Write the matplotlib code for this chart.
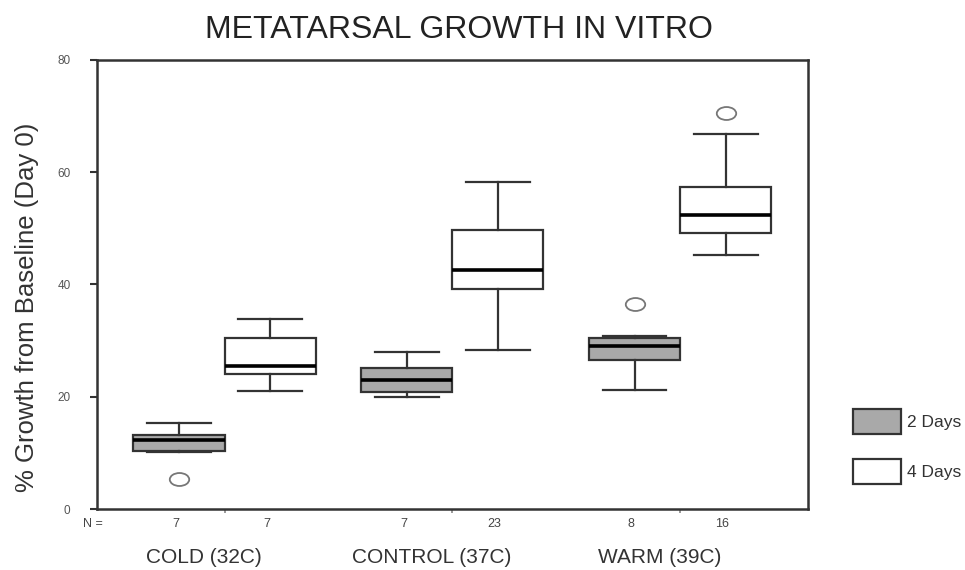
import matplotlib
matplotlib.use("Agg")
import matplotlib.pyplot as plt
from matplotlib.path import Path
from matplotlib.patches import Patch
from matplotlib.transforms import Affine2D

plt.rcParams['font.family'] = ['Liberation Sans', 'DejaVu Sans']

groups = ['COLD (32C)', 'CONTROL (37C)', 'WARM (39C)']
n_2days = [7, 7, 8]
n_4days = [7, 23, 16]

# whislo, q1, med, q3, whishi for each group
days2 = [[10.1, 10.3, 12.3, 13.1, 15.4],
         [19.9, 20.9, 23.0, 25.1, 28.0],
         [21.2, 26.5, 29.0, 30.4, 30.8]]
days4 = [[21.1, 24.0, 25.4, 30.4, 33.9],
         [28.4, 39.1, 42.6, 49.7, 58.2],
         [45.3, 49.1, 52.3, 57.3, 66.8]]
outl2 = [[5.3], [], [36.5]]
outl4 = [[], [], [70.5]]

def mkstats(rows, outs):
    res = []
    for r, o in zip(rows, outs):
        res.append(dict(whislo=r[0], q1=r[1], med=r[2], q3=r[3], whishi=r[4], fliers=o))
    return res

ellipse = Path.unit_circle().transformed(Affine2D().scale(1.5, 1.0))

fig = plt.figure(figsize=(9.65, 5.7), dpi=100)
ax = fig.add_axes([0.1005, 0.107, 0.7365, 0.788])

edge = '#333333'
pos = [1, 2, 3]
for stats, shift, fc in [(mkstats(days2, outl2), -0.2, '#a9a9a9'),
                         (mkstats(days4, outl4), 0.2, 'white')]:
    ax.bxp(stats, positions=[p + shift for p in pos], widths=0.4, capwidths=0.28,
           patch_artist=True, manage_ticks=False,
           boxprops=dict(facecolor=fc, edgecolor=edge, linewidth=1.6),
           whiskerprops=dict(color=edge, linewidth=1.6),
           capprops=dict(color=edge, linewidth=1.6),
           medianprops=dict(color='black', linewidth=2.6),
           flierprops=dict(marker=ellipse, markersize=14, markerfacecolor='white',
                           markeredgecolor='#777777', markeredgewidth=1.3))

ax.set_xlim(0.44, 3.56)
ax.set_ylim(0, 80)
ax.set_yticks([0, 20, 40, 60, 80])
ax.tick_params(axis='y', labelsize=8.5, labelcolor='#555555', length=5, width=1.5,
               color=edge, pad=14)
ax.set_xticks(pos)
ax.set_xticklabels([])
ax.tick_params(axis='x', length=3, width=1.2, color='#888888')
for s in ax.spines.values():
    s.set_color(edge)
    s.set_linewidth(1.8)

ax.set_ylabel('% Growth from Baseline (Day 0)', fontsize=18.5, color='#333333')
ax.yaxis.set_label_coords(-0.081, 0.45)
ax.set_title('METATARSAL GROWTH IN VITRO', fontsize=23, color='#222222', pad=16, x=0.509)

tr = ax.get_xaxis_transform()
ax.text(0.42, -0.034, 'N =', transform=tr, ha='center', va='center', fontsize=9, color='#444444')
for i in range(3):
    ax.text(pos[i] - 0.215, -0.034, str(n_2days[i]), transform=tr, ha='center', va='center',
            fontsize=9, color='#444444')
    ax.text(pos[i] + 0.185, -0.034, str(n_4days[i]), transform=tr, ha='center', va='center',
            fontsize=9, color='#444444')
    ax.text(pos[i] - 0.09, -0.108, groups[i], transform=tr, ha='center', va='center',
            fontsize=15, color='#333333')

handles = [Patch(facecolor='#a9a9a9', edgecolor=edge, linewidth=1.6, label='2 Days'),
           Patch(facecolor='white', edgecolor=edge, linewidth=1.6, label='4 Days')]
fig.legend(handles=handles, loc='upper left', bbox_to_anchor=(0.884, 0.282), frameon=False,
           borderpad=0, borderaxespad=0, fontsize=12.5, handlelength=2.76, handleheight=1.85,
           labelspacing=1.4, handletextpad=0.35, labelcolor='#333333')

fig.savefig('out.png', dpi=100)
